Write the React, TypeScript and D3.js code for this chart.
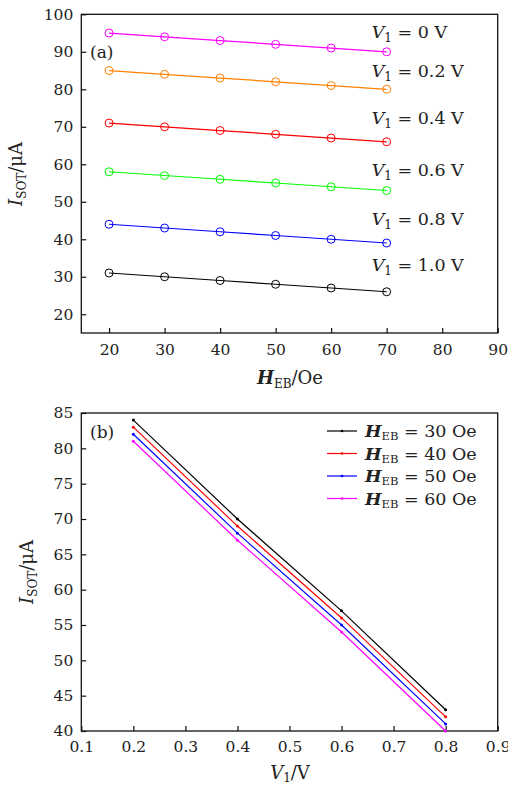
import * as d3 from "d3";
import { useEffect, useRef } from "react";

// panel (a): I_SOT vs H_EB for several V1
const hebTop = [20, 30, 40, 50, 60, 70];
const v1Levels = ["0", "0.2", "0.4", "0.6", "0.8", "1.0"];
const isotV00 = [95, 94, 93, 92, 91, 90];
const isotV02 = [85, 84, 83, 82, 81, 80];
const isotV04 = [71, 70, 69, 68, 67, 66];
const isotV06 = [58, 57, 56, 55, 54, 53];
const isotV08 = [44, 43, 42, 41, 40, 39];
const isotV10 = [31, 30, 29, 28, 27, 26];
const topSeries = [isotV00, isotV02, isotV04, isotV06, isotV08, isotV10];
const topColors = ["#ff00ff", "#ff8000", "#ff0000", "#00ff00", "#0000ff", "#000000"];
// label anchor (data units) for the V1 annotations
const topLabelX = 67.3;
const topLabelY = [93.7, 83.3, 70.7, 56.9, 43.8, 31.5];
const topXTicks = [20, 30, 40, 50, 60, 70, 80, 90];
const topYTicks = [20, 30, 40, 50, 60, 70, 80, 90, 100];

// panel (b): I_SOT vs V1 for several H_EB
const v1Bottom = [0.2, 0.4, 0.6, 0.8];
const hebLevels = ["30", "40", "50", "60"];
const isotH30 = [84, 70, 57, 43];
const isotH40 = [83, 69, 56, 42];
const isotH50 = [82, 68, 55, 41];
const isotH60 = [81, 67, 54, 40];
const bottomSeries = [isotH30, isotH40, isotH50, isotH60];
const bottomColors = ["#000000", "#ff0000", "#0000ff", "#ff00ff"];
const bottomXTicks = [0.1, 0.2, 0.3, 0.4, 0.5, 0.6, 0.7, 0.8, 0.9];
const bottomYTicks = [40, 45, 50, 55, 60, 65, 70, 75, 80, 85];

const FONT = "'DejaVu Serif', 'Liberation Serif', serif";
const W = 508;
const H = 785;

export default function App() {
  const ref = useRef<SVGSVGElement | null>(null);

  useEffect(() => {
    const svg = d3.select(ref.current);
    svg.selectAll("*").remove();

    const left = 81.3;
    const right = 497.7;

    // 画坐标轴和边框
    const drawFrame = (g, x, y, xTicks, yTicks, xFmt, padX) => {
      const [x0, x1] = x.range();
      const [y0, y1] = y.range();
      const ax = g
        .append("g")
        .attr("transform", `translate(0,${y0})`)
        .call(
          d3.axisBottom(x).tickValues(xTicks).tickFormat(xFmt).tickSizeInner(-5).tickSizeOuter(0).tickPadding(padX)
        );
      const ay = g
        .append("g")
        .attr("transform", `translate(${x0},0)`)
        .call(d3.axisLeft(y).tickValues(yTicks).tickSizeInner(-5).tickSizeOuter(0).tickPadding(8));
      [ax, ay].forEach((a) => {
        a.select(".domain").remove();
        a.selectAll("line").attr("stroke", "#111").attr("stroke-width", 1.2);
        a.selectAll("text").attr("fill", "#222").style("font-family", FONT).style("font-size", "15.5px");
      });
      g.append("rect")
        .attr("x", x0)
        .attr("y", y1)
        .attr("width", x1 - x0)
        .attr("height", y0 - y1)
        .attr("fill", "none")
        .attr("stroke", "#111")
        .attr("stroke-width", 1.3);
    };

    const addIsotLabel = (g, tx, ty) => {
      const t = g
        .append("text")
        .attr("transform", `translate(${tx},${ty}) rotate(-90)`)
        .attr("text-anchor", "middle")
        .attr("fill", "#222")
        .style("font-family", FONT)
        .style("font-size", "18px");
      t.append("tspan").attr("font-style", "italic").text("I");
      t.append("tspan").attr("dy", 4).style("font-size", "12px").text("SOT");
      t.append("tspan").attr("dy", -4).text("/μA");
    };

    // ---------- (a) ----------
    const ga = svg.append("g");
    const xa = d3.scaleLinear().domain([15, 90]).range([left, right]);
    const ya = d3.scaleLinear().domain([15, 100]).range([333, 14.3]);
    drawFrame(ga, xa, ya, topXTicks, topYTicks, d3.format("d"), 11);

    const lineA = d3
      .line<number>()
      .x((d, i) => xa(hebTop[i]))
      .y((d) => ya(d));

    topSeries.forEach((s, k) => {
      ga.append("path")
        .attr("d", lineA(s))
        .attr("fill", "none")
        .attr("stroke", topColors[k])
        .attr("stroke-width", 1.2);
      ga.append("g")
        .selectAll("circle")
        .data(s)
        .join("circle")
        .attr("cx", (d, i) => xa(hebTop[i]))
        .attr("cy", (d) => ya(d))
        .attr("r", 4)
        .attr("fill", "none")
        .attr("stroke", topColors[k])
        .attr("stroke-width", 1);
      const t = ga
        .append("text")
        .attr("x", xa(topLabelX))
        .attr("y", ya(topLabelY[k]))
        .attr("fill", "#222")
        .style("font-family", FONT)
        .style("font-size", "17.5px");
      t.append("tspan").attr("font-style", "italic").text("V");
      t.append("tspan").attr("dy", 4).style("font-size", "12px").text("1");
      t.append("tspan").attr("dy", -4).text(` = ${v1Levels[k]} V`);
    });

    ga.append("text")
      .attr("x", 90)
      .attr("y", 58)
      .attr("fill", "#222")
      .style("font-family", FONT)
      .style("font-size", "17px")
      .text("(a)");

    addIsotLabel(ga, 22, 174);

    const xla = ga
      .append("text")
      .attr("x", 290)
      .attr("y", 384)
      .attr("text-anchor", "middle")
      .attr("fill", "#222")
      .style("font-family", FONT)
      .style("font-size", "18px");
    xla.append("tspan").attr("font-style", "italic").attr("font-weight", "bold").text("H");
    xla.append("tspan").attr("dy", 4).style("font-size", "12px").text("EB");
    xla.append("tspan").attr("dy", -4).text("/Oe");

    // ---------- (b) ----------
    const gb = svg.append("g");
    const xb = d3.scaleLinear().domain([0.1, 0.9]).range([left, right]);
    const yb = d3.scaleLinear().domain([40, 85]).range([731, 413]);
    drawFrame(gb, xb, yb, bottomXTicks, bottomYTicks, d3.format(".1f"), 10);

    const lineB = d3
      .line<number>()
      .x((d, i) => xb(v1Bottom[i]))
      .y((d) => yb(d));

    bottomSeries.forEach((s, k) => {
      gb.append("path")
        .attr("d", lineB(s))
        .attr("fill", "none")
        .attr("stroke", bottomColors[k])
        .attr("stroke-width", 1.2);
      gb.append("g")
        .selectAll("circle")
        .data(s)
        .join("circle")
        .attr("cx", (d, i) => xb(v1Bottom[i]))
        .attr("cy", (d) => yb(d))
        .attr("r", 1.5)
        .attr("fill", bottomColors[k]);
    });

    // 图例
    const legend = gb.append("g").attr("transform", "translate(327,431)");
    hebLevels.forEach((h, k) => {
      const row = legend.append("g").attr("transform", `translate(0,${k * 22.5})`);
      row.append("line")
        .attr("x1", 0)
        .attr("x2", 30)
        .attr("y1", 0)
        .attr("y2", 0)
        .attr("stroke", bottomColors[k])
        .attr("stroke-width", 1.2);
      row.append("circle").attr("cx", 15).attr("cy", 0).attr("r", 1.3).attr("fill", bottomColors[k]);
      const t = row
        .append("text")
        .attr("x", 38)
        .attr("y", 6)
        .attr("fill", "#222")
        .style("font-family", FONT)
        .style("font-size", "17.5px");
      t.append("tspan").attr("font-style", "italic").attr("font-weight", "bold").text("H");
      t.append("tspan").attr("dy", 3).style("font-size", "11.5px").text("EB");
      t.append("tspan").attr("dy", -3).text(` = ${h} Oe`);
    });

    gb.append("text")
      .attr("x", 90)
      .attr("y", 438)
      .attr("fill", "#222")
      .style("font-family", FONT)
      .style("font-size", "17px")
      .text("(b)");

    addIsotLabel(gb, 33, 572);

    const xlb = gb
      .append("text")
      .attr("x", 290)
      .attr("y", 779)
      .attr("text-anchor", "middle")
      .attr("fill", "#222")
      .style("font-family", FONT)
      .style("font-size", "18px");
    xlb.append("tspan").attr("font-style", "italic").text("V");
    xlb.append("tspan").attr("dy", 3).style("font-size", "12px").text("1");
    xlb.append("tspan").attr("dy", -3).text("/V");
  }, []);

  return (
    <div style={{ position: "absolute", left: 0, top: 0 }}>
      <svg ref={ref} width={W} height={H} viewBox={`0 0 ${W} ${H}`} style={{ display: "block", background: "#fff" }} />
    </div>
  );
}
